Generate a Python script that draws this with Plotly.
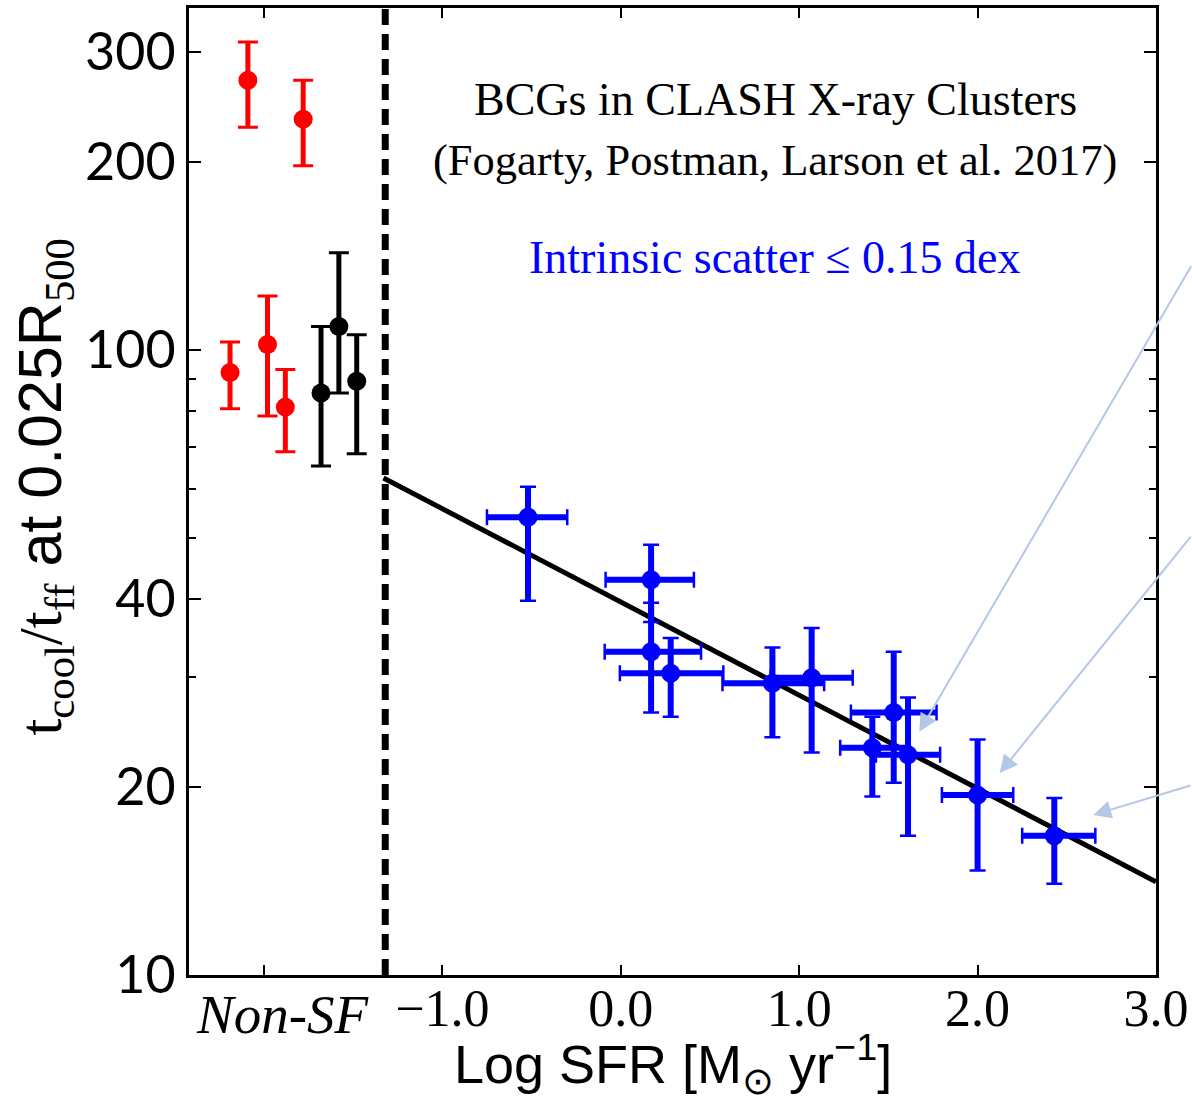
import plotly.graph_objects as go

# ---------------- data ----------------
# Non-star-forming BCGs (placed in the "Non-SF" strip)
red_x = [-2.19, -2.09, -1.98, -1.88, -1.78]
red_y = [92.0, 270.0, 102.0, 81.0, 234.0]
red_y_hi = [103.0, 311.0, 122.0, 93.0, 270.0]
red_y_lo = [80.5, 227.0, 78.4, 68.7, 197.0]

black_x = [-1.68, -1.58, -1.48]
black_y = [85.3, 109.0, 89.1]
black_y_hi = [109.0, 143.0, 105.7]
black_y_lo = [65.2, 85.3, 68.2]

# Star-forming BCGs
blue_x = [-0.52, 0.17, 0.17, 0.28, 0.85, 1.07, 1.53, 1.41, 1.61, 2.00, 2.43]
blue_x_lo = [-0.75, -0.085, -0.09, -0.005, 0.57, 0.84, 1.29, 1.23, 1.43, 1.80, 2.25]
blue_x_hi = [-0.30, 0.41, 0.45, 0.575, 1.14, 1.30, 1.77, 1.60, 1.79, 2.20, 2.66]
blue_y = [54.0, 42.9, 32.9, 30.4, 29.3, 29.9, 26.3, 23.1, 22.5, 19.4, 16.7]
blue_y_hi = [60.4, 48.8, 39.4, 34.6, 33.4, 35.9, 32.9, 25.9, 27.8, 23.8, 19.2]
blue_y_lo = [39.7, 36.7, 26.3, 25.9, 24.0, 22.7, 20.3, 19.3, 16.7, 14.7, 14.0]

# best-fit relation end points
fit_x = [-1.33, 3.0]
fit_y = [62.4, 14.1]

nonsf_boundary = -1.32

x_tickvals = [-2, -1, 0, 1, 2, 3]
x_ticktext = ["", "\u22121.0", "0.0", "1.0", "2.0", "3.0"]
y_tickvals = [10, 20, 40, 100, 200, 300]
y_ticktext = ["10", "20", "40", "100", "200", "300"]
y_minorvals = [30, 50, 60, 70, 80, 90]

# arrow heads (data x, log10 y) and tail offsets in px
arrow_x = [1.673, 2.124, 2.648]
arrow_logy = [1.389, 1.323, 1.256]
arrow_ax = [275, 194, 102]
arrow_ay = [-467, -238, -30]

BLUE = "#0000ff"
RED = "#ff0000"


def diff(a, b):
    return [u - v for u, v in zip(a, b)]


fig = go.Figure()

# best-fit line
fig.add_trace(go.Scatter(x=fit_x, y=fit_y, mode="lines",
                         line=dict(color="black", width=5), showlegend=False))


def add_points(x, y, ylo, yhi, color, xlo=None, xhi=None, bar=5, cap=2.5, capw=8):
    ey = dict(type="data", symmetric=False, array=diff(yhi, y),
              arrayminus=diff(y, ylo), color=color)
    ex = None
    if xlo is not None:
        ex = dict(type="data", symmetric=False, array=diff(xhi, x),
                  arrayminus=diff(x, xlo), color=color)
    # thick bars without caps
    fig.add_trace(go.Scatter(
        x=x, y=y, mode="markers", marker=dict(size=1, color=color, opacity=0),
        error_y=dict(ey, thickness=bar, width=0),
        error_x=(dict(ex, thickness=bar, width=0) if ex else None),
        showlegend=False, hoverinfo="skip"))
    # thin caps + markers
    fig.add_trace(go.Scatter(
        x=x, y=y, mode="markers", marker=dict(size=19, color=color),
        error_y=dict(ey, thickness=cap, width=capw),
        error_x=(dict(ex, thickness=cap, width=capw) if ex else None),
        showlegend=False))


add_points(red_x, red_y, red_y_lo, red_y_hi, RED, bar=5, cap=3, capw=10)
add_points(black_x, black_y, black_y_lo, black_y_hi, "black", bar=5, cap=3, capw=10)
add_points(blue_x, blue_y, blue_y_lo, blue_y_hi, BLUE,
           xlo=blue_x_lo, xhi=blue_x_hi, bar=6, cap=2.5, capw=8)

# Non-SF boundary
fig.add_shape(type="line", xref="x", yref="paper", x0=nonsf_boundary,
              x1=nonsf_boundary, y0=0, y1=1,
              line=dict(color="black", width=7, dash="16px,9px"))

serif = "Liberation Serif"
annotations = [
    dict(text="BCGs in CLASH X-ray Clusters", x=0.606, y=0.905,
         font=dict(family=serif, size=46, color="black")),
    dict(text="(Fogarty, Postman, Larson et al. 2017)", x=0.606, y=0.843,
         font=dict(family=serif, size=44.5, color="black")),
    dict(text="Intrinsic scatter \u2264 0.15 dex", x=0.606, y=0.742,
         font=dict(family=serif, size=46, color=BLUE)),
    dict(text="<i>Non-SF</i>", x=0.097, y=-0.041,
         font=dict(family=serif, size=55, color="black")),
    dict(text="Log SFR [M<sub>\u2299</sub> yr<sup>\u22121</sup>]", x=0.5, y=-0.092,
         font=dict(family="Liberation Sans", size=54, color="black")),
    dict(text='<span style="font-family:Liberation Serif">t<sub>cool</sub>/t<sub>ff</sub></span>'
              ' at 0.025R<sub><span style="font-family:Liberation Serif">500</span></sub>',
         x=-0.149, y=0.505, textangle=-90,
         font=dict(family="Liberation Sans", size=61, color="black")),
]
for a in annotations:
    fig.add_annotation(xref="paper", yref="paper", showarrow=False,
                       xanchor="center", yanchor="middle", **a)

for hx, hy, ax, ay in zip(arrow_x, arrow_logy, arrow_ax, arrow_ay):
    fig.add_annotation(xref="x", yref="y", x=hx, y=hy, ax=ax, ay=ay,
                       text="", showarrow=True, arrowhead=2, arrowsize=1.8,
                       arrowwidth=2, arrowcolor="#b4c7e7")

fig.update_xaxes(range=[-2.42, 3.0], tickvals=x_tickvals, ticktext=x_ticktext,
                 ticks="inside", ticklen=10, tickwidth=2, tickcolor="black",
                 showline=True, linewidth=3, linecolor="black", mirror="ticks",
                 showgrid=False, zeroline=False, automargin=False,
                 ticklabelstandoff=-14,
                 tickfont=dict(family=serif, size=52, color="black"))
fig.update_yaxes(type="log", range=[1.0, 2.547], tickvals=y_tickvals,
                 ticktext=y_ticktext, ticks="inside", ticklen=12, tickwidth=2,
                 tickcolor="black", showline=True, linewidth=3,
                 linecolor="black", mirror="ticks", showgrid=False,
                 zeroline=False, automargin=False,
                 minor=dict(tickmode="array", tickvals=y_minorvals,
                            ticks="inside", ticklen=7, tickwidth=2,
                            tickcolor="black", showgrid=False),
                 tickfont=dict(family="Lato", size=52, color="black"))

fig.update_layout(width=1192, height=1103, showlegend=False,
                  margin=dict(l=189, r=36, t=8, b=128),
                  paper_bgcolor="white", plot_bgcolor="white")

fig.write_html("out.html")
